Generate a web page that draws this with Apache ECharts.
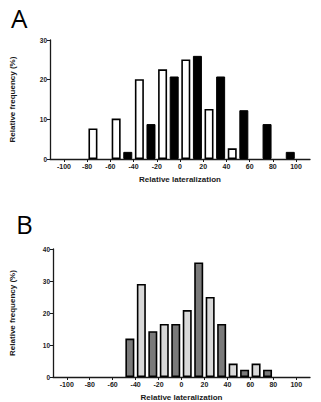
<!DOCTYPE html>
<html>
<head>
<meta charset="utf-8">
<script src="https://cdn.jsdelivr.net/npm/echarts@6/dist/echarts.min.js"></script>
<style>
  html, body { margin: 0; padding: 0; background: #fff; }
  #chart { width: 321px; height: 402px; }
</style>
</head>
<body>
<div id="chart"></div>
<script>
(function() {
  // bin centres on the x axis, one pair of bars per bin
  var bins = [-100, -80, -60, -40, -20, 0, 20, 40, 60, 80, 100];
  var tickValues = [-100, -80, -60, -40, -20, 0, 20, 40, 60, 80, 100];

  // panel A
  var blackA = [null, null, null, 1.8, 8.8, 20.8, 26.0, 20.8, 12.3, 8.8, 1.8];
  var whiteA = [null, 7.7, 10.2, 20.1, 22.6, 25.1, 12.6, 2.7, null, null, null];

  // panel B
  var darkB = [null, null, null, 12.0, 14.3, 16.6, 35.8, 16.6, 2.3, 2.3, null];
  var lightB = [null, null, null, 29.1, 16.6, 20.9, 25.0, 4.2, 4.2, null, null];

  var ink = '#1a1a1a';
  var font = 'Liberation Sans, Arial, sans-serif';

  function pairs(vals, shift) {
    var out = [];
    for (var i = 0; i < bins.length; i++) {
      if (vals[i] != null) out.push([bins[i] + shift, vals[i]]);
    }
    return out;
  }

  function xAxis(idx) {
    return {
      type: 'value', gridIndex: idx, min: -112, max: 112,
      name: 'Relative lateralization', nameLocation: 'middle', nameGap: 16,
      nameTextStyle: { color: ink, fontSize: 8, fontWeight: 'bold', fontFamily: font },
      axisLine: { show: true, onZero: false, lineStyle: { color: ink, width: 1.3 } },
      axisTick: { show: true, length: 3, customValues: tickValues, lineStyle: { color: ink, width: 1 } },
      axisLabel: { customValues: tickValues, color: ink, fontSize: 7, fontWeight: 'bold', fontFamily: font, margin: 4 },
      splitLine: { show: false }
    };
  }

  function yAxis(idx, max, gap) {
    return {
      type: 'value', gridIndex: idx, min: 0, max: max, interval: 10,
      name: 'Relative frequency (%)', nameLocation: 'middle', nameGap: gap,
      nameTextStyle: { color: ink, fontSize: 8, fontWeight: 'bold', fontFamily: font },
      axisLine: { show: true, onZero: false, lineStyle: { color: ink, width: 1.3 } },
      axisTick: { show: true, length: 3, lineStyle: { color: ink, width: 1 } },
      axisLabel: { color: ink, fontSize: 6.5, fontWeight: 'bold', fontFamily: font, margin: 3 },
      splitLine: { show: false }
    };
  }

  function bars(idx, data, fill, border) {
    return {
      type: 'bar', xAxisIndex: idx, yAxisIndex: idx,
      barWidth: 9, barGap: '-100%',
      itemStyle: { color: fill, borderColor: '#000', borderWidth: border },
      data: data
    };
  }

  var chart = echarts.init(document.getElementById('chart'), null, { renderer: 'svg' });
  chart.setOption({
    animation: false,
    backgroundColor: '#fff',
    grid: [
      { left: 42, top: 40, width: 268, height: 119 },
      { left: 42, top: 249, width: 268, height: 129 }
    ],
    xAxis: [xAxis(0), xAxis(1)],
    yAxis: [yAxis(0, 30, 34), yAxis(1, 40, 37)],
    graphic: [
      { type: 'text', left: 11, top: 5, style: { text: 'A', fontSize: 26, fontFamily: 'Open Sans, sans-serif', fill: '#000' } },
      { type: 'text', left: 16, top: 211, style: { text: 'B', fontSize: 26, fontFamily: 'Open Sans, sans-serif', fill: '#000' } }
    ],
    series: [
      bars(0, pairs(blackA, -5), '#000', 1),
      bars(0, pairs(whiteA, 5), '#fff', 1.6),
      bars(1, pairs(darkB, -5), '#7a7a7a', 1.6),
      bars(1, pairs(lightB, 5), '#d8d8d8', 1.6)
    ]
  });
  window.addEventListener('resize', function() { chart.resize(); });
})();
</script>
</body>
</html>
